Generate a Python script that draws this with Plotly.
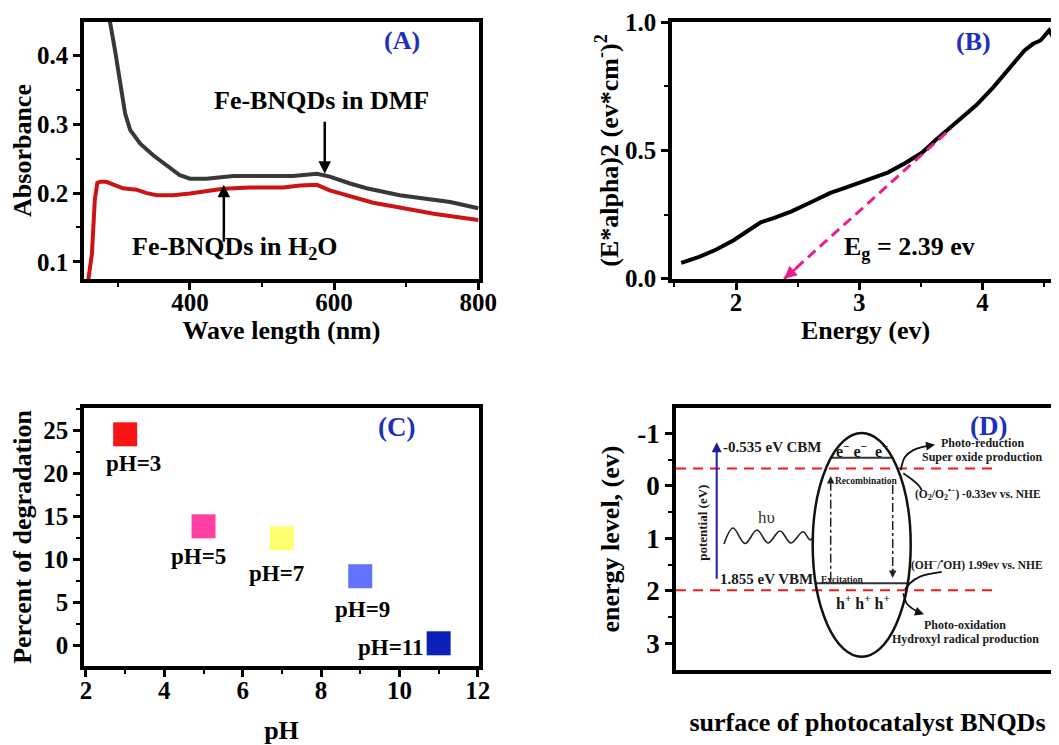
import plotly.graph_objects as go

FONT = "Liberation Serif, Times New Roman, Times, serif"
LABEL_BLUE = "#1b2fc0"
PAGE_OFFSET = 8          # browser body margin
W, H = 1059 - PAGE_OFFSET, 745 - PAGE_OFFSET

# ---------------- (A) UV-vis absorbance ----------------
wl_dmf = [285, 289, 296, 303, 310, 317, 331, 349, 368, 386, 400, 423, 460, 506, 543, 576, 594, 622, 645, 691, 728, 761, 800]
abs_dmf = [0.48, 0.4495, 0.408, 0.365, 0.316, 0.292, 0.272, 0.255, 0.241, 0.226, 0.221, 0.221, 0.225, 0.225,
           0.225, 0.228, 0.224, 0.214, 0.207, 0.197, 0.191, 0.187, 0.178]
wl_h2o = [257, 259, 264, 268, 271.5, 275, 284, 294, 307, 326, 340, 354, 377, 400, 423, 446, 483, 529, 553, 576,
          594, 622, 654, 691, 738, 800]
abs_h2o = [0.05, 0.074, 0.112, 0.190, 0.215, 0.2165, 0.2165, 0.212, 0.207, 0.205, 0.200, 0.197, 0.197, 0.1995,
           0.2034, 0.2063, 0.208, 0.208, 0.211, 0.212, 0.204, 0.195, 0.186, 0.179, 0.170, 0.161]

# ---------------- (B) Tauc plot ----------------
energy = [1.555, 1.70, 1.84, 1.98, 2.09, 2.20, 2.31, 2.45, 2.62, 2.76, 2.90, 3.03, 3.23, 3.37, 3.51, 3.62, 3.77,
          3.95, 4.09, 4.23, 4.34, 4.41, 4.47, 4.54, 4.575, 4.595, 4.605, 4.615, 4.64]
tauc = [0.062, 0.085, 0.114, 0.150, 0.185, 0.220, 0.237, 0.263, 0.301, 0.334, 0.357, 0.379, 0.414, 0.450, 0.492,
        0.541, 0.605, 0.677, 0.748, 0.825, 0.890, 0.916, 0.929, 0.968, 0.94, 0.83, 0.66, 0.40, 0.0]
band_gap = 2.39
tangent_x = [band_gap, 3.744]
tangent_y = [0.0, 0.586]

# ---------------- (C) degradation vs pH ----------------
ph = [3, 5, 7, 9, 11]
degradation = [24.5, 13.8, 12.4, 8.0, 0.2]
ph_colors = ["#fb1414", "#ff40a2", "#ffff70", "#6273ff", "#0a20b6"]
ph_labels = ["pH=3", "pH=5", "pH=7", "pH=9", "pH=11"]

# ---------------- (D) band diagram ----------------
cbm = -0.535
vbm = 1.855
o2_level = -0.33
oh_level = 1.99

fig = go.Figure()

# (A)
fig.add_trace(go.Scatter(x=wl_h2o, y=abs_h2o, mode="lines", line=dict(color="#cc1414", width=4),
                         xaxis="x", yaxis="y", hoverinfo="skip"))
fig.add_trace(go.Scatter(x=wl_dmf, y=abs_dmf, mode="lines", line=dict(color="#383838", width=4),
                         xaxis="x", yaxis="y", hoverinfo="skip"))

# (B)
fig.add_trace(go.Scatter(x=energy, y=tauc, mode="lines", line=dict(color="black", width=4),
                         xaxis="x2", yaxis="y2", hoverinfo="skip"))
fig.add_trace(go.Scatter(x=tangent_x, y=tangent_y, mode="lines",
                         line=dict(color="#e91e8c", width=3, dash="10px,6px"),
                         xaxis="x2", yaxis="y2", hoverinfo="skip"))

# (C)
fig.add_trace(go.Scatter(x=ph, y=degradation, mode="markers",
                         marker=dict(symbol="square", size=24, color=ph_colors, line=dict(width=0)),
                         xaxis="x3", yaxis="y3", hoverinfo="skip"))

# (D) schematic (x axis in arbitrary horizontal units)
dash_x = [0, 319]
for lvl in (o2_level, oh_level):
    fig.add_trace(go.Scatter(x=dash_x, y=[lvl, lvl], mode="lines",
                             line=dict(color="#ee1c1c", width=2, dash="10px,7px"),
                             xaxis="x4", yaxis="y4", hoverinfo="skip"))

ell_cx, ell_rx = 185.7, 49.0
ell_top, ell_bot = -1.005, 3.255
ell_cy, ell_ry = (ell_top + ell_bot) / 2, (ell_bot - ell_top) / 2


def ellipse_span(level):
    r = ((level - ell_cy) / ell_ry) ** 2
    half = ell_rx * (1 - r) ** 0.5
    return ell_cx - half, ell_cx + half


for lvl in (cbm, vbm):
    x0, x1 = ellipse_span(lvl)
    fig.add_trace(go.Scatter(x=[x0, x1], y=[lvl, lvl], mode="lines", line=dict(color="#333333", width=2),
                             xaxis="x4", yaxis="y4", hoverinfo="skip"))

# excitation / recombination dash-dot paths
fig.add_trace(go.Scatter(x=[154.7, 154.7], y=[1.81, -0.08], mode="lines",
                         line=dict(color="#222222", width=1.5, dash="dashdot"),
                         xaxis="x4", yaxis="y4", hoverinfo="skip"))
fig.add_trace(go.Scatter(x=[216.7, 216.7], y=[-0.015, 1.65], mode="lines",
                         line=dict(color="#222222", width=1.5, dash="dashdot"),
                         xaxis="x4", yaxis="y4", hoverinfo="skip"))

# photon wave
wave_x = [48, 57, 69, 81, 92, 104, 115, 127, 134, 136.7]
wave_y = [1.109, 0.804, 1.099, 0.842, 1.09, 0.861, 1.09, 0.874, 1.03, 0.994]
fig.add_trace(go.Scatter(x=wave_x, y=wave_y, mode="lines", line=dict(color="#222222", width=1.6, shape="spline"),
                         xaxis="x4", yaxis="y4", hoverinfo="skip"))

# curved connectors
curves = [
    ([224.7, 229, 237.3, 247, 256], [-0.30, -0.55, -0.68, -0.74, -0.77]),
    ([227.3, 235.7, 242.3, 245.7], [-0.24, -0.125, -0.015, 0.08]),
    ([265.7, 244, 234, 229], [1.64, 1.73, 1.856, 1.97]),
    ([227.3, 230.7, 235.7, 242.3, 245], [2.05, 2.24, 2.33, 2.40, 2.42]),
]
for cx, cy in curves:
    fig.add_trace(go.Scatter(x=cx, y=cy, mode="lines", line=dict(color="#111111", width=1.8, shape="spline"),
                             xaxis="x4", yaxis="y4", hoverinfo="skip"))


def f(size, color="black", weight="bold"):
    return dict(family=FONT, size=size, color=color, weight=weight)


def axis(**kw):
    base = dict(showline=True, linecolor="black", linewidth=3.5, mirror=True, ticks="outside", ticklen=7,
                tickwidth=2.5, tickcolor="black", showgrid=False, zeroline=False, tickfont=f(25),
                automargin=False)
    base.update(kw)
    return base


def minor(d):
    return dict(ticks="outside", ticklen=4, tickwidth=2, tickcolor="black", dtick=d)


def dom_x(a, b):
    return [(a - PAGE_OFFSET) / W, min(1.0, (b - PAGE_OFFSET) / W)]


def dom_y(top, bot):
    return [1 - (bot - PAGE_OFFSET) / H, 1 - (top - PAGE_OFFSET) / H]


fig.update_layout(
    template="none",
    width=W, height=H, margin=dict(l=0, r=0, t=0, b=0, autoexpand=False),
    paper_bgcolor="white", plot_bgcolor="white", showlegend=False,
    font=dict(family=FONT, color="black"),
    xaxis=axis(domain=dom_x(84, 479), anchor="y", range=[253, 801], tick0=0, dtick=200, minor=minor(100),
               ticklabelstandoff=-9,
               title=dict(text="Wave length (nm)", font=f(26), standoff=4)),
    yaxis=axis(domain=dom_y(22, 279), anchor="x", range=[0.075, 0.449], tick0=0, dtick=0.1, tickformat=".1f",
               minor=minor(0.05), title=dict(text="Absorbance", font=f(26), standoff=0)),
    xaxis2=axis(domain=dom_x(672, 1059), anchor="y2", range=[1.48, 4.62], tick0=0, dtick=1, minor=minor(0.5),
                ticklabelstandoff=-9,
                title=dict(text="Energy (ev)", font=f(26), standoff=5)),
    yaxis2=axis(domain=dom_y(22, 279), anchor="x2", range=[-0.001, 1.001], tick0=0, dtick=0.5, tickformat=".1f",
                mirror=False, minor=minor(0.25),
                title=dict(text="(E*alpha)2 (ev*cm<sup>-</sup>)<sup>2</sup>", font=f(26), standoff=0)),
    xaxis3=axis(domain=dom_x(84, 479), anchor="y3", range=[1.95, 12.03], tick0=0, dtick=2, minor=minor(1),
                ticklabelstandoff=-8,
                title=dict(text="pH", font=f(26), standoff=35)),
    yaxis3=axis(domain=dom_y(408, 666), anchor="x3", range=[-2.44, 27.56], tick0=0, dtick=5, minor=minor(2.5),
                title=dict(text="Percent of degradation", font=f(26), standoff=5)),
    xaxis4=axis(domain=dom_x(676, 1059), anchor="y4", range=[0, 383], ticks="", showticklabels=False,
                title=dict(text="surface of photocatalyst BNQDs", font=f(26), standoff=41)),
    yaxis4=axis(domain=dom_y(408, 670), anchor="x4", range=[3.509, -1.482], tickmode="array",
                tickvals=[-1, 0, 1, 2, 3], ticktext=["-1", "0", "1", "2", "3"], mirror=False,
                tickfont=f(27),
                minor=dict(ticks="outside", ticklen=4, tickwidth=2, tickcolor="black",
                           tickvals=[-0.5, 0.5, 1.5, 2.5]),
                title=dict(text="energy level, (ev)", font=f(26), standoff=11)),
)

ann = []


def paper_text(text, px, py, size, color=LABEL_BLUE):
    ann.append(dict(text=text, x=(px - PAGE_OFFSET) / W, y=1 - (py - PAGE_OFFSET) / H, xref="paper",
                    yref="paper", xanchor="center", yanchor="middle", showarrow=False, font=f(size, color)))


paper_text("(A)", 401.7, 40, 26)
paper_text("(B)", 973, 41, 26)
paper_text("(C)", 396.7, 426.7, 27)
paper_text("(D)", 988, 426, 27)

# (A) labels + arrows
ann.append(dict(text="Fe-BNQDs in DMF", x=582.6, y=0.335, xref="x", yref="y", showarrow=False, font=f(26),
                yanchor="middle"))
ann.append(dict(text="Fe-BNQDs in H<sub>2</sub>O", x=462.4, y=0.120, xref="x", yref="y", showarrow=False,
                font=f(26), yanchor="middle"))
ann.append(dict(text="", x=587, y=0.228, ax=587, ay=0.306, xref="x", yref="y", axref="x", ayref="y",
                showarrow=True, arrowhead=2, arrowsize=1, arrowwidth=2.5, arrowcolor="black"))
ann.append(dict(text="", x=447, y=0.212, ax=447, ay=0.127, xref="x", yref="y", axref="x", ayref="y",
                showarrow=True, arrowhead=2, arrowsize=1, arrowwidth=2.5, arrowcolor="black"))

# (B)
ann.append(dict(text="E<sub>g</sub> = %.2f ev" % band_gap, x=3.41, y=0.118, xref="x2", yref="y2",
                showarrow=False, font=f(26), yanchor="middle"))
ann.append(dict(text="", x=tangent_x[0], y=tangent_y[0], ax=tangent_x[0] + 0.12, ay=0.05, xref="x2", yref="y2",
                axref="x2", ayref="y2", showarrow=True, arrowhead=2, arrowsize=1, arrowwidth=2.5,
                arrowcolor="#e91e8c"))

# (C) labels
label_shift = [(8, -29), (-5, -30), (-5, -35), (2, -33), (-48, -4)]
for xv, yv, lab, (dx, dy) in zip(ph, degradation, ph_labels, label_shift):
    ann.append(dict(text=lab, x=xv, y=yv, xref="x3", yref="y3", xshift=dx, yshift=dy, showarrow=False,
                    font=f(23), yanchor="middle"))


# (D) texts
def dtext(text, x, y, size, weight="bold", anchor="center", color="#1a1a1a", angle=0):
    ann.append(dict(text=text, x=x, y=y, xref="x4", yref="y4", showarrow=False, xanchor=anchor,
                    yanchor="middle", textangle=angle, font=f(size, color, weight)))


dtext("%.3f eV CBM" % cbm, 45, -0.74, 15, anchor="left")
dtext("%.3f eV VBM" % vbm, 42, 1.78, 15, anchor="left")
dtext("potential (eV)", 25.7, 0.71, 13, angle=-90)
dtext("hυ", 90.7, 0.61, 17, weight="normal", color="#333333")
dtext("e<sup>−</sup> e<sup>−</sup>  e<sup>−</sup>", 185.7, -0.68, 16)
dtext("h<sup>+</sup> h<sup>+</sup> h<sup>+</sup>", 187, 2.22, 16)
dtext("Recombination", 190, -0.10, 9.5)
dtext("Excitation", 166, 1.79, 9.5)
dtext("Photo-reduction", 306.7, -0.81, 12)
dtext("Super oxide production", 306.7, -0.55, 12)
dtext("(O<sub>2</sub>/O<sub>2</sub><sup>•−</sup>) %.2fev vs. NHE" % o2_level, 302.3, 0.15, 11.5)
dtext("(OH<sup>−</sup>/<sup>•</sup>OH) %.2fev vs. NHE" % oh_level, 300.7, 1.49, 11.5)
dtext("Photo-oxidation", 289, 2.65, 12)
dtext("Hydroxyl radical production", 289, 2.92, 12)

# (D) arrows
ann.append(dict(text="", x=40.7, y=-0.83, ax=40.7, ay=1.80, xref="x4", yref="y4", axref="x4", ayref="y4",
                showarrow=True, arrowhead=2, arrowsize=1, arrowwidth=2, arrowcolor="#1f1f9e"))
ann.append(dict(text="", x=154.7, y=-0.186, ax=154.7, ay=-0.02, xref="x4", yref="y4", axref="x4", ayref="y4",
                showarrow=True, arrowhead=2, arrowsize=1, arrowwidth=1.5, arrowcolor="#222222"))
ann.append(dict(text="", x=216.7, y=1.757, ax=216.7, ay=1.55, xref="x4", yref="y4", axref="x4", ayref="y4",
                showarrow=True, arrowhead=2, arrowsize=1, arrowwidth=1.5, arrowcolor="#222222"))
ann.append(dict(text="", x=259, y=-0.78, ax=250, ay=-0.755, xref="x4", yref="y4", axref="x4", ayref="y4",
                showarrow=True, arrowhead=2, arrowsize=1, arrowwidth=1.8, arrowcolor="#111111"))
ann.append(dict(text="", x=248, y=2.445, ax=241, ay=2.40, xref="x4", yref="y4", axref="x4", ayref="y4",
                showarrow=True, arrowhead=2, arrowsize=1, arrowwidth=1.8, arrowcolor="#111111"))

fig.update_layout(annotations=ann)

# ellipse for the photocatalyst particle
fig.add_shape(type="circle", xref="x4", yref="y4", x0=ell_cx - ell_rx, x1=ell_cx + ell_rx, y0=ell_top,
              y1=ell_bot, line=dict(color="#111111", width=2.5))

fig.write_html("out.html")
